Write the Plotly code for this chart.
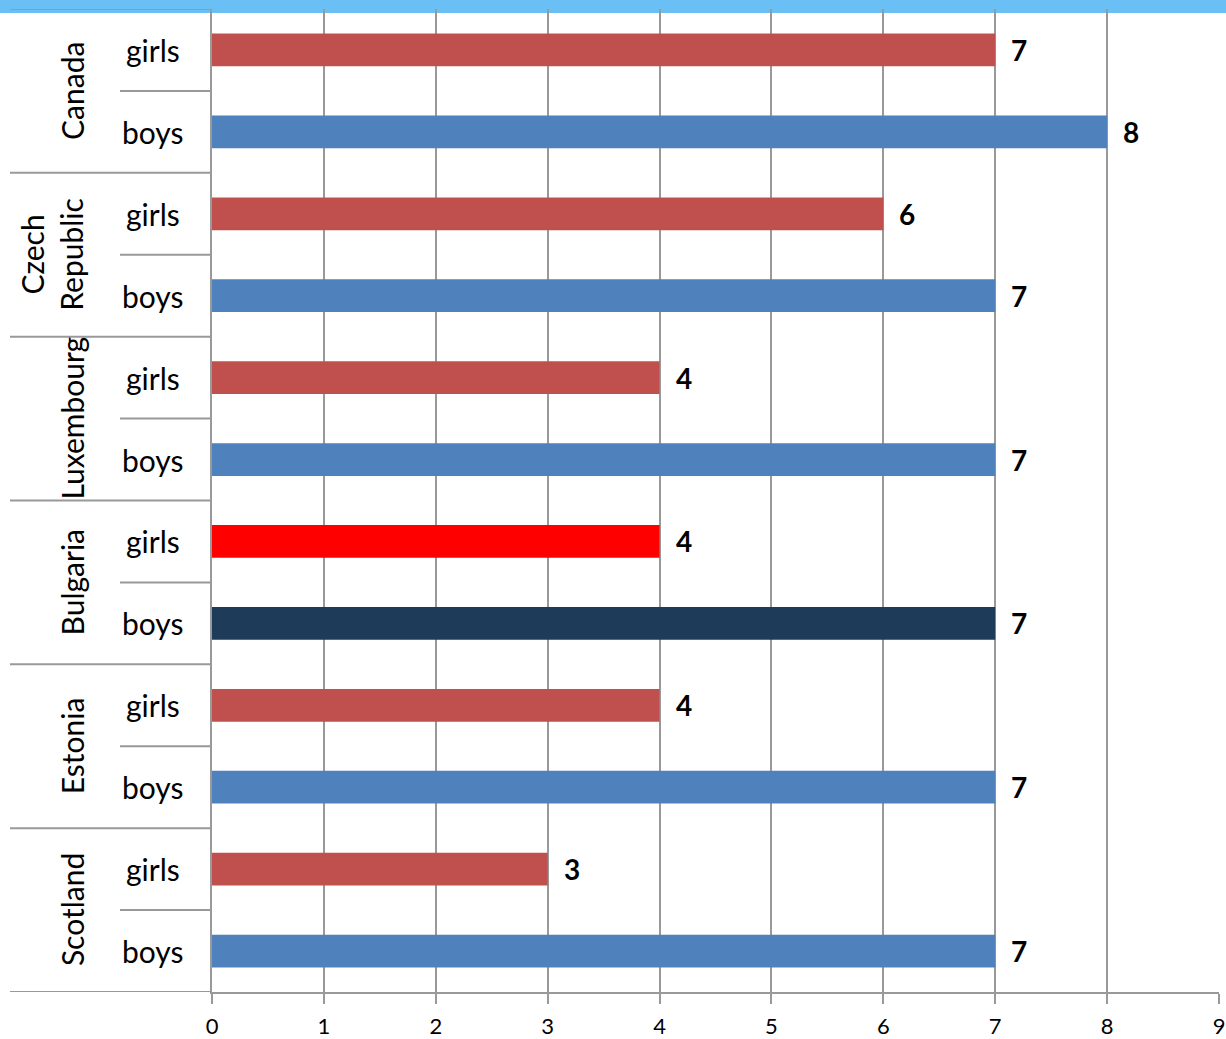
import plotly.graph_objects as go

countries = ["Canada", "Czech Republic", "Luxembourg", "Bulgaria", "Estonia", "Scotland"]
country_labels = ["Canada", "Czech<br>Republic", "Luxembourg", "Bulgaria", "Estonia", "Scotland"]
genders = ["girls", "boys"]
girls = [7, 6, 4, 4, 4, 3]
boys = [8, 7, 7, 7, 7, 7]
girls_colors = ["#C0504D", "#C0504D", "#C0504D", "#FF0000", "#C0504D", "#C0504D"]
boys_colors = ["#4F81BD", "#4F81BD", "#4F81BD", "#1F3B5A", "#4F81BD", "#4F81BD"]
x_ticks = list(range(0, 10))

W, H = 1226, 1039
L, R, T, B = 212, 7, 9, 47
pw = W - L - R
FONT = "Lato"

cats = []
for c in countries:
    for g in genders:
        cats.append(f"{c}|{g}")
girl_cats = [f"{c}|girls" for c in countries]
boy_cats = [f"{c}|boys" for c in countries]

fig = go.Figure()
fig.add_trace(go.Bar(x=girls, y=girl_cats, orientation="h", width=0.4,
                     marker=dict(color=girls_colors, line=dict(width=0)), showlegend=False))
fig.add_trace(go.Bar(x=boys, y=boy_cats, orientation="h", width=0.4,
                     marker=dict(color=boys_colors, line=dict(width=0)), showlegend=False))

annotations = []
for yc, v in zip(girl_cats + boy_cats, girls + boys):
    annotations.append(dict(x=v, y=yc, xref="x", yref="y", text=str(v), showarrow=False,
                            xanchor="left", xshift=14,
                            font=dict(family=FONT, size=28, color="black", weight="bold")))

def px2paper(px):
    return (px - L) / pw

for i, cl in enumerate(country_labels):
    cx = 52 if "<br>" in cl else 72
    annotations.append(dict(x=px2paper(cx), y=2 * i + 0.5, xref="paper", yref="y", text=cl,
                            showarrow=False, textangle=-90, xanchor="center", yanchor="middle",
                            font=dict(family=FONT, size=30, color="black")))
for yc in cats:
    annotations.append(dict(x=px2paper(153), y=yc, xref="paper", yref="y", text=yc.split("|")[1],
                            showarrow=False, xanchor="center", yanchor="middle",
                            font=dict(family=FONT, size=30, color="black")))

shapes = []
# light blue top band
shapes.append(dict(type="rect", xref="paper", yref="paper", x0=px2paper(0), x1=px2paper(W),
                   y0=1 - 4 / (H - T - B), y1=1 + 9 / (H - T - B),
                   fillcolor="#6ABFF5", line=dict(width=0), layer="below"))
for k in range(len(countries) + 1):
    y = 2 * k - 0.5
    shapes.append(dict(type="line", xref="paper", yref="y", x0=px2paper(10), x1=0, y0=y, y1=y,
                       line=dict(color="#999999", width=2)))
for k in range(len(countries)):
    y = 2 * k + 0.5
    shapes.append(dict(type="line", xref="paper", yref="y", x0=px2paper(120), x1=0, y0=y, y1=y,
                       line=dict(color="#999999", width=2)))

fig.update_layout(
    width=W, height=H,
    margin=dict(l=L, r=R, t=T, b=B, autoexpand=False),
    paper_bgcolor="white", plot_bgcolor="white",
    barmode="overlay",
    annotations=annotations, shapes=shapes,
    xaxis=dict(range=[0, 9], tickvals=x_ticks, showgrid=True, gridcolor="#999999", gridwidth=2,
               showline=True, linecolor="#999999", linewidth=2, automargin=False,
               ticks="outside", ticklen=10, tickcolor="#999999", tickwidth=2,
               ticklabelstandoff=4,
               tickfont=dict(family=FONT, size=22, color="black"), zeroline=False),
    yaxis=dict(type="category", categoryorder="array", categoryarray=cats, automargin=False,
               range=[len(cats) - 0.5, -0.5], showticklabels=False, showgrid=False,
               showline=True, linecolor="#999999", linewidth=2, zeroline=False),
)
fig.write_html(
    "out.html",
    config={"displayModeBar": False},
    post_script=("document.body.style.margin='0';document.body.style.overflow='hidden';"
                 "document.documentElement.style.overflow='hidden';"),
)
